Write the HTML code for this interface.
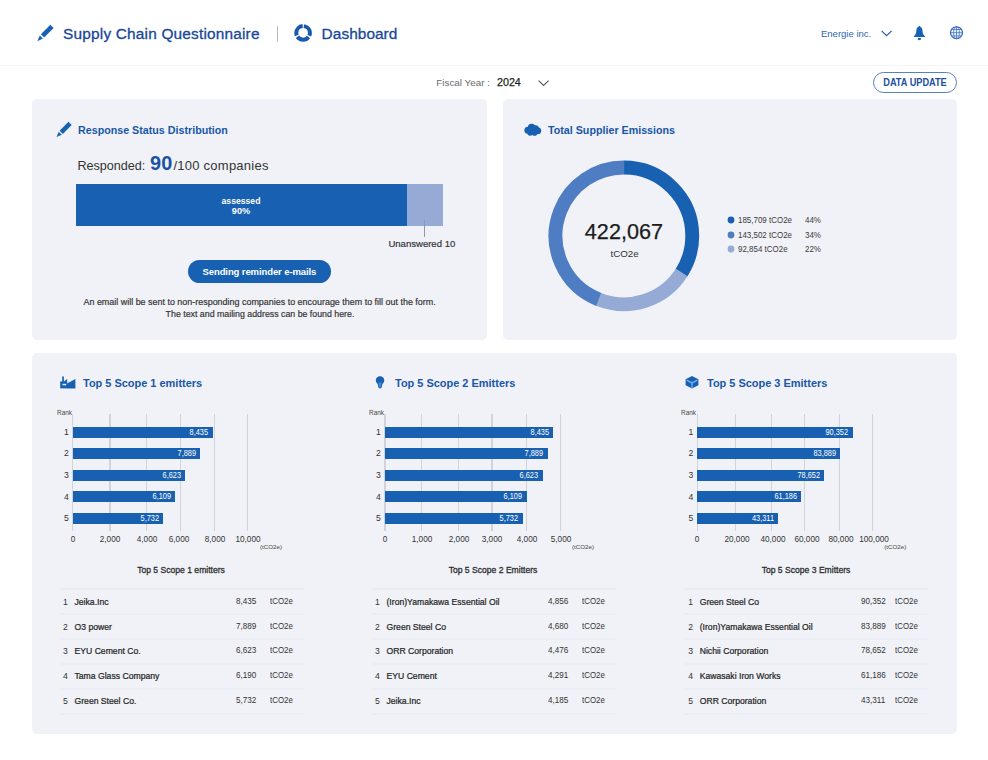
<!DOCTYPE html>
<html lang="en"><head><meta charset="utf-8"><title>Supply Chain Questionnaire - Dashboard</title>
<style>
html,body{margin:0;padding:0;background:#fff;}
body{width:988px;height:760px;position:relative;overflow:hidden;font-family:"Liberation Sans",sans-serif;}
.t{position:absolute;white-space:nowrap;line-height:1;}
.r{position:absolute;display:block;}
</style></head><body>
<svg class="r" style="left:34.6px;top:24px" width="19" height="19" viewBox="0 0 19 19"><g transform="translate(1.3,1) rotate(45 8.5 8.5)"><rect x="6.3" y="-1.6" width="4.6" height="13.4" fill="#1860b1"/><path d="M6.4 13.4 L10.8 13.4 L8.6 19.2 Z" fill="#1860b1"/></g></svg>
<div class="t" style="top:26px;font-size:15.4px;color:#18479a;letter-spacing:0.19px;-webkit-text-stroke:0.3px #18479a;left:63.10px;">Supply Chain Questionnaire</div>
<div class="r" style="left:277.30px;top:25.50px;width:1.10px;height:16.00px;background:#b4bcc9;"></div>
<svg class="r" style="left:293px;top:23px" width="20" height="20" viewBox="0 0 20 20"><circle cx="10.1" cy="9.9" r="6.8" fill="none" stroke="#1858ad" stroke-width="4" stroke-dasharray="12.8 1.442" stroke-dashoffset="-0.72" transform="rotate(-90 10.1 9.9)"/></svg>
<div class="t" style="top:26px;font-size:15.4px;color:#18479a;letter-spacing:0.06px;-webkit-text-stroke:0.3px #18479a;left:321.60px;">Dashboard</div>
<div class="t" style="top:29px;font-size:9.5px;color:#2f66b3;left:821.00px;">Energie inc.</div>
<svg class="r" style="left:880px;top:29px" width="14" height="9" viewBox="0 0 14 9"><path d="M1.6 1.9 L6.6 6.7 L11.6 1.9" fill="none" stroke="#2a5ca8" stroke-width="1.2"/></svg>
<svg class="r" style="left:912px;top:25px" width="15" height="17" viewBox="0 0 15 17"><path d="M7.4 0.8 C6.9 0.8 6.6 1.2 6.6 1.7 C5.1 2.3 4.4 3.8 4.3 5.4 C4.2 7.8 3.9 9.4 1.9 11.2 C1.6 11.6 1.8 12.1 2.3 12.1 L12.5 12.1 C13 12.1 13.2 11.6 12.9 11.2 C10.9 9.4 10.6 7.8 10.5 5.4 C10.4 3.8 9.7 2.3 8.2 1.7 C8.2 1.2 7.9 0.8 7.4 0.8 Z" fill="#1860b1"/><ellipse cx="7.4" cy="14.0" rx="1.7" ry="1.15" fill="#1860b1"/></svg>
<svg class="r" style="left:949.1px;top:25.2px" width="15" height="15" viewBox="0 0 15 15"><g fill="none"><circle cx="7.5" cy="7.7" r="6" stroke-width="1.15" stroke="#2a62b3" fill="#e9f1fc"/><g stroke="#3a70bd" stroke-width="0.75"><ellipse cx="7.5" cy="7.7" rx="2.9" ry="6"/><path d="M7.5 1.7 V13.7 M1.5 7.7 H13.5 M2.6 4.5 H12.4 M2.6 10.9 H12.4"/></g></g></svg>
<div class="r" style="left:0.00px;top:65.30px;width:988.00px;height:1.20px;background:#f3f4f6;"></div>
<div class="t" style="top:78px;font-size:9.85px;color:#6a6a6a;left:436.30px;">Fiscal Year :</div>
<div class="t" style="top:77px;font-size:10.7px;color:#1f1f1f;left:497.00px;-webkit-text-stroke:0.25px #1f1f1f;">2024</div>
<svg class="r" style="left:537px;top:79px" width="14" height="9" viewBox="0 0 14 9"><path d="M1.6 1.7 L6.6 6.4 L11.6 1.7" fill="none" stroke="#555" stroke-width="1.1"/></svg>
<div class="r" style="left:872.8px;top:71.9px;width:84.3px;height:20.7px;box-sizing:border-box;border:1.6px solid #5282c0;border-radius:11px;background:#fff"></div>
<div class="t" style="top:78px;font-size:10.4px;color:#1b509f;font-weight:700;left:914.60px;transform:translateX(-50%) scaleX(0.885);">DATA UPDATE</div>
<div class="r" style="left:32.00px;top:99.00px;width:455.00px;height:241.00px;background:#f0f2f7;border-radius:5px;"></div>
<div class="r" style="left:503.00px;top:99.00px;width:453.50px;height:241.00px;background:#f0f2f7;border-radius:5px;"></div>
<div class="r" style="left:32.00px;top:353.00px;width:924.50px;height:381.00px;background:#f0f2f7;border-radius:5px;"></div>
<svg class="r" style="left:53.6px;top:121.4px" width="18.4" height="18.4" viewBox="0 0 17 17"><g transform="translate(1,1) rotate(45 7.5 7.5)"><rect x="5.5" y="-1.4" width="4.2" height="11.6" fill="#1860b1"/><path d="M5.6 11.5 L9.6 11.5 L7.6 16.3 Z" fill="#1860b1"/></g></svg>
<div class="t" style="top:125px;font-size:11.8px;color:#1856a7;font-weight:700;left:77.90px;transform:scaleX(0.907);transform-origin:0 50%;">Response Status Distribution</div>
<div class="t" style="top:160px;font-size:12.6px;color:#333;left:77.40px;">Responded:</div>
<div class="t" style="top:154px;font-size:19.9px;color:#1a52a5;font-weight:700;left:150.10px;">90</div>
<div class="t" style="top:159px;font-size:13px;color:#333;letter-spacing:0.24px;left:173.50px;">/100 companies</div>
<div class="r" style="left:76.00px;top:183.70px;width:331.00px;height:42.00px;background:#1860b1;"></div>
<div class="r" style="left:407.00px;top:183.70px;width:35.60px;height:42.00px;background:#95aad5;"></div>
<div class="t" style="top:197px;font-size:9.2px;color:#fff;font-weight:700;left:241.00px;transform:translateX(-50%) scaleX(0.94);">assessed</div>
<div class="t" style="top:207px;font-size:9.2px;color:#fff;font-weight:700;left:241.00px;transform:translateX(-50%);">90%</div>
<div class="r" style="left:424.20px;top:220.00px;width:1.10px;height:16.50px;background:#9096a5;"></div>
<div class="t" style="top:239px;font-size:9.55px;color:#333;-webkit-text-stroke:0.18px #333;left:388.40px;">Unanswered 10</div>
<div class="r" style="left:188.00px;top:260.00px;width:142.80px;height:23.20px;background:#1860b1;border-radius:12px;"></div>
<div class="t" style="top:267px;font-size:9.5px;color:#fff;font-weight:700;letter-spacing:-0.1px;left:259.40px;transform:translateX(-50%);">Sending reminder e-mails</div>
<div class="t" style="top:298px;font-size:8.95px;color:#333;-webkit-text-stroke:0.18px #333;left:259.60px;transform:translateX(-50%);">An email will be sent to non-responding companies to encourage them to fill out the form.</div>
<div class="t" style="top:310px;font-size:8.8px;color:#333;-webkit-text-stroke:0.18px #333;left:260.00px;transform:translateX(-50%);">The text and mailing address can be found here.</div>
<svg class="r" style="left:523px;top:122px" width="20" height="16" viewBox="0 0 20 16"><g fill="#1860b1"><ellipse cx="9.8" cy="8" rx="6.4" ry="4.4"/><circle cx="8.6" cy="5.6" r="3.8"/><circle cx="12.6" cy="6.4" r="3.1"/><circle cx="4.9" cy="8.2" r="3.5"/><circle cx="14.7" cy="8.8" r="3.5"/><circle cx="7.2" cy="10.8" r="2.9"/><circle cx="11.6" cy="10.9" r="2.8"/></g></svg>
<div class="t" style="top:125px;font-size:11.8px;color:#1856a7;font-weight:700;left:548.10px;transform:scaleX(0.907);transform-origin:0 50%;">Total Supplier Emissions</div>
<svg class="r" style="left:0;top:0" width="988" height="760"><circle cx="623.9" cy="235.9" r="68.35" fill="none" stroke="#1860b1" stroke-width="13.9" stroke-dasharray="146.01 429.46" transform="rotate(-90.00 623.9 235.9)"/><circle cx="623.9" cy="235.9" r="68.35" fill="none" stroke="#95aad5" stroke-width="13.9" stroke-dasharray="94.48 429.46" transform="rotate(32.40 623.9 235.9)"/><circle cx="623.9" cy="235.9" r="68.35" fill="none" stroke="#4f7dc4" stroke-width="13.9" stroke-dasharray="188.96 429.46" transform="rotate(111.60 623.9 235.9)"/></svg>
<div class="t" style="top:221px;font-size:21.6px;color:#1c1c1c;-webkit-text-stroke:0.25px #1c1c1c;left:623.90px;transform:translateX(-50%);">422,067</div>
<div class="t" style="top:249px;font-size:9.8px;color:#333;left:624.60px;transform:translateX(-50%);">tCO2e</div>
<svg class="r" style="left:726px;top:214.60px" width="10" height="10"><circle cx="5" cy="5" r="3.4" fill="#1860b1"/></svg>
<div class="t" style="top:216px;font-size:8.5px;color:#3a3a3a;left:738.10px;transform:scaleX(0.937);transform-origin:0 50%;">185,709 tCO2e</div>
<div class="t" style="top:216px;font-size:8.5px;color:#3a3a3a;left:804.60px;transform:scaleX(0.937);transform-origin:0 50%;">44%</div>
<svg class="r" style="left:726px;top:229.50px" width="10" height="10"><circle cx="5" cy="5" r="3.4" fill="#4f7dc4"/></svg>
<div class="t" style="top:231px;font-size:8.5px;color:#3a3a3a;left:738.10px;transform:scaleX(0.937);transform-origin:0 50%;">143,502 tCO2e</div>
<div class="t" style="top:231px;font-size:8.5px;color:#3a3a3a;left:804.60px;transform:scaleX(0.937);transform-origin:0 50%;">34%</div>
<svg class="r" style="left:726px;top:244.40px" width="10" height="10"><circle cx="5" cy="5" r="3.4" fill="#95aad5"/></svg>
<div class="t" style="top:245px;font-size:8.5px;color:#3a3a3a;left:738.10px;transform:scaleX(0.937);transform-origin:0 50%;">92,854 tCO2e</div>
<div class="t" style="top:245px;font-size:8.5px;color:#3a3a3a;left:804.60px;transform:scaleX(0.937);transform-origin:0 50%;">22%</div>
<svg class="r" style="left:58.5px;top:375px" width="18" height="15" viewBox="0 0 18 15"><g fill="#1860b1"><rect x="3.2" y="1.5" width="1.7" height="5.5"/><rect x="1.2" y="6.4" width="6.9" height="7"/><path d="M4.9 6.5 L8.2 4.1 V9 Z"/><path d="M8 8.6 L16.4 3.9 V13.4 H8 Z"/></g><rect x="3.5" y="8.8" width="3.7" height="1.5" fill="#e6ecf6"/></svg>
<div class="t" style="top:377px;font-size:11.6px;color:#1856a7;font-weight:700;left:83.10px;transform:scaleX(0.945);transform-origin:0 50%;">Top 5 Scope 1 emitters</div>
<div class="t" style="top:410px;font-size:6.9px;color:#444;left:57.00px;transform:scaleX(0.93);transform-origin:0 50%;">Rank</div>
<div class="r" style="left:72.20px;top:413.60px;width:1.20px;height:117.00px;background:#d0d3da;"></div>
<div class="r" style="left:109.40px;top:413.60px;width:1.20px;height:117.00px;background:#d0d3da;"></div>
<div class="r" style="left:146.00px;top:413.60px;width:1.20px;height:117.00px;background:#d0d3da;"></div>
<div class="r" style="left:179.70px;top:413.60px;width:1.20px;height:117.00px;background:#d0d3da;"></div>
<div class="r" style="left:213.90px;top:413.60px;width:1.20px;height:117.00px;background:#d0d3da;"></div>
<div class="r" style="left:247.00px;top:413.60px;width:1.20px;height:117.00px;background:#d0d3da;"></div>
<div class="r" style="left:72.80px;top:426.50px;width:139.90px;height:11.00px;background:#1860b1;"></div>
<div class="t" style="top:429px;font-size:8.2px;color:#fff;left:208.40px;transform:translateX(-100%) scaleX(0.9);transform-origin:100% 50%;">8,435</div>
<div class="t" style="top:428px;font-size:8.6px;color:#333;left:66.50px;transform:translateX(-50%);">1</div>
<div class="r" style="left:72.80px;top:448.00px;width:127.00px;height:11.00px;background:#1860b1;"></div>
<div class="t" style="top:450px;font-size:8.2px;color:#fff;left:195.50px;transform:translateX(-100%) scaleX(0.9);transform-origin:100% 50%;">7,889</div>
<div class="t" style="top:449px;font-size:8.6px;color:#333;left:66.50px;transform:translateX(-50%);">2</div>
<div class="r" style="left:72.80px;top:469.50px;width:112.00px;height:11.00px;background:#1860b1;"></div>
<div class="t" style="top:472px;font-size:8.2px;color:#fff;left:180.50px;transform:translateX(-100%) scaleX(0.9);transform-origin:100% 50%;">6,623</div>
<div class="t" style="top:471px;font-size:8.6px;color:#333;left:66.50px;transform:translateX(-50%);">3</div>
<div class="r" style="left:72.80px;top:491.00px;width:102.50px;height:11.00px;background:#1860b1;"></div>
<div class="t" style="top:493px;font-size:8.2px;color:#fff;left:171.00px;transform:translateX(-100%) scaleX(0.9);transform-origin:100% 50%;">6,109</div>
<div class="t" style="top:493px;font-size:8.6px;color:#333;left:66.50px;transform:translateX(-50%);">4</div>
<div class="r" style="left:72.80px;top:512.50px;width:90.60px;height:11.00px;background:#1860b1;"></div>
<div class="t" style="top:515px;font-size:8.2px;color:#fff;left:159.10px;transform:translateX(-100%) scaleX(0.9);transform-origin:100% 50%;">5,732</div>
<div class="t" style="top:514px;font-size:8.6px;color:#333;left:66.50px;transform:translateX(-50%);">5</div>
<div class="t" style="top:535px;font-size:8.6px;color:#333;left:72.80px;transform:translateX(-50%) scaleX(0.955);">0</div>
<div class="t" style="top:535px;font-size:8.6px;color:#333;left:110.00px;transform:translateX(-50%) scaleX(0.955);">2,000</div>
<div class="t" style="top:535px;font-size:8.6px;color:#333;left:147.00px;transform:translateX(-50%) scaleX(0.955);">4,000</div>
<div class="t" style="top:535px;font-size:8.6px;color:#333;left:179.00px;transform:translateX(-50%) scaleX(0.955);">6,000</div>
<div class="t" style="top:535px;font-size:8.6px;color:#333;left:214.50px;transform:translateX(-50%) scaleX(0.955);">8,000</div>
<div class="t" style="top:535px;font-size:8.6px;color:#333;left:247.50px;transform:translateX(-50%) scaleX(0.955);">10,000</div>
<div class="t" style="top:544px;font-size:6.2px;color:#444;left:260.00px;">(tCO2e)</div>
<div class="t" style="top:565px;font-size:9.4px;color:#2d2d2d;-webkit-text-stroke:0.3px #2d2d2d;left:181.20px;transform:translateX(-50%) scaleX(0.915);">Top 5 Scope 1 emitters</div>
<div class="r" style="left:61.00px;top:588.00px;width:243.00px;height:2.00px;background:#ebedf4;"></div>
<div class="r" style="left:61.00px;top:613.00px;width:243.00px;height:2.00px;background:#ebedf4;"></div>
<div class="r" style="left:61.00px;top:638.00px;width:243.00px;height:2.00px;background:#ebedf4;"></div>
<div class="r" style="left:61.00px;top:663.00px;width:243.00px;height:2.00px;background:#ebedf4;"></div>
<div class="r" style="left:61.00px;top:688.00px;width:243.00px;height:2.00px;background:#ebedf4;"></div>
<div class="r" style="left:61.00px;top:713.00px;width:243.00px;height:2.00px;background:#ebedf4;"></div>
<div class="t" style="top:598px;font-size:8.6px;color:#333;left:65.50px;transform:translateX(-50%);">1</div>
<div class="t" style="top:598px;font-size:8.65px;color:#262626;-webkit-text-stroke:0.22px #262626;left:74.50px;">Jeika.Inc</div>
<div class="t" style="top:597px;font-size:8.5px;color:#333;left:236.10px;transform:scaleX(0.955);transform-origin:0 50%;">8,435</div>
<div class="t" style="top:597px;font-size:8.5px;color:#333;left:270.00px;transform:scaleX(0.93);transform-origin:0 50%;">tCO2e</div>
<div class="t" style="top:623px;font-size:8.6px;color:#333;left:65.50px;transform:translateX(-50%);">2</div>
<div class="t" style="top:623px;font-size:8.65px;color:#262626;-webkit-text-stroke:0.22px #262626;left:74.50px;">O3 power</div>
<div class="t" style="top:622px;font-size:8.5px;color:#333;left:236.10px;transform:scaleX(0.955);transform-origin:0 50%;">7,889</div>
<div class="t" style="top:622px;font-size:8.5px;color:#333;left:270.00px;transform:scaleX(0.93);transform-origin:0 50%;">tCO2e</div>
<div class="t" style="top:647px;font-size:8.6px;color:#333;left:65.50px;transform:translateX(-50%);">3</div>
<div class="t" style="top:647px;font-size:8.65px;color:#262626;-webkit-text-stroke:0.22px #262626;left:74.50px;">EYU Cement Co.</div>
<div class="t" style="top:646px;font-size:8.5px;color:#333;left:236.10px;transform:scaleX(0.955);transform-origin:0 50%;">6,623</div>
<div class="t" style="top:646px;font-size:8.5px;color:#333;left:270.00px;transform:scaleX(0.93);transform-origin:0 50%;">tCO2e</div>
<div class="t" style="top:672px;font-size:8.6px;color:#333;left:65.50px;transform:translateX(-50%);">4</div>
<div class="t" style="top:672px;font-size:8.65px;color:#262626;-webkit-text-stroke:0.22px #262626;left:74.50px;">Tama Glass Company</div>
<div class="t" style="top:671px;font-size:8.5px;color:#333;left:236.10px;transform:scaleX(0.955);transform-origin:0 50%;">6,190</div>
<div class="t" style="top:671px;font-size:8.5px;color:#333;left:270.00px;transform:scaleX(0.93);transform-origin:0 50%;">tCO2e</div>
<div class="t" style="top:697px;font-size:8.6px;color:#333;left:65.50px;transform:translateX(-50%);">5</div>
<div class="t" style="top:697px;font-size:8.65px;color:#262626;-webkit-text-stroke:0.22px #262626;left:74.50px;">Green Steel Co.</div>
<div class="t" style="top:696px;font-size:8.5px;color:#333;left:236.10px;transform:scaleX(0.955);transform-origin:0 50%;">5,732</div>
<div class="t" style="top:696px;font-size:8.5px;color:#333;left:270.00px;transform:scaleX(0.93);transform-origin:0 50%;">tCO2e</div>
<svg class="r" style="left:374px;top:375px" width="12" height="15" viewBox="0 0 12 15"><path d="M6.05 1.2 C3.5 1.2 1.8 3 1.8 5.2 C1.8 6.7 2.6 7.6 3.3 8.6 C3.8 9.4 4 10.4 4.1 11.6 C4.2 12.8 4.9 13.4 6.05 13.4 C7.2 13.4 7.9 12.8 8 11.6 C8.1 10.4 8.3 9.4 8.8 8.6 C9.5 7.6 10.3 6.7 10.3 5.2 C10.3 3 8.6 1.2 6.05 1.2 Z" fill="#1860b1"/><path d="M4.6 7.4 H7.5 L7.2 12 C7.1 12.6 6.7 12.8 6.05 12.8 C5.4 12.8 5 12.6 4.9 12 Z" fill="#4a86cf"/></svg>
<div class="t" style="top:377px;font-size:11.6px;color:#1856a7;font-weight:700;left:395.10px;transform:scaleX(0.945);transform-origin:0 50%;">Top 5 Scope 2 Emitters</div>
<div class="t" style="top:410px;font-size:6.9px;color:#444;left:369.00px;transform:scaleX(0.93);transform-origin:0 50%;">Rank</div>
<div class="r" style="left:384.40px;top:413.60px;width:1.20px;height:117.00px;background:#d0d3da;"></div>
<div class="r" style="left:421.30px;top:413.60px;width:1.20px;height:117.00px;background:#d0d3da;"></div>
<div class="r" style="left:457.90px;top:413.60px;width:1.20px;height:117.00px;background:#d0d3da;"></div>
<div class="r" style="left:491.40px;top:413.60px;width:1.20px;height:117.00px;background:#d0d3da;"></div>
<div class="r" style="left:525.90px;top:413.60px;width:1.20px;height:117.00px;background:#d0d3da;"></div>
<div class="r" style="left:559.70px;top:413.60px;width:1.20px;height:117.00px;background:#d0d3da;"></div>
<div class="r" style="left:385.00px;top:426.50px;width:168.40px;height:11.00px;background:#1860b1;"></div>
<div class="t" style="top:429px;font-size:8.2px;color:#fff;left:549.10px;transform:translateX(-100%) scaleX(0.9);transform-origin:100% 50%;">8,435</div>
<div class="t" style="top:428px;font-size:8.6px;color:#333;left:378.50px;transform:translateX(-50%);">1</div>
<div class="r" style="left:385.00px;top:448.00px;width:162.60px;height:11.00px;background:#1860b1;"></div>
<div class="t" style="top:450px;font-size:8.2px;color:#fff;left:543.30px;transform:translateX(-100%) scaleX(0.9);transform-origin:100% 50%;">7,889</div>
<div class="t" style="top:449px;font-size:8.6px;color:#333;left:378.50px;transform:translateX(-50%);">2</div>
<div class="r" style="left:385.00px;top:469.50px;width:157.70px;height:11.00px;background:#1860b1;"></div>
<div class="t" style="top:472px;font-size:8.2px;color:#fff;left:538.40px;transform:translateX(-100%) scaleX(0.9);transform-origin:100% 50%;">6,623</div>
<div class="t" style="top:471px;font-size:8.6px;color:#333;left:378.50px;transform:translateX(-50%);">3</div>
<div class="r" style="left:385.00px;top:491.00px;width:141.50px;height:11.00px;background:#1860b1;"></div>
<div class="t" style="top:493px;font-size:8.2px;color:#fff;left:522.20px;transform:translateX(-100%) scaleX(0.9);transform-origin:100% 50%;">6,109</div>
<div class="t" style="top:493px;font-size:8.6px;color:#333;left:378.50px;transform:translateX(-50%);">4</div>
<div class="r" style="left:385.00px;top:512.50px;width:137.60px;height:11.00px;background:#1860b1;"></div>
<div class="t" style="top:515px;font-size:8.2px;color:#fff;left:518.30px;transform:translateX(-100%) scaleX(0.9);transform-origin:100% 50%;">5,732</div>
<div class="t" style="top:514px;font-size:8.6px;color:#333;left:378.50px;transform:translateX(-50%);">5</div>
<div class="t" style="top:535px;font-size:8.6px;color:#333;left:385.00px;transform:translateX(-50%) scaleX(0.955);">0</div>
<div class="t" style="top:535px;font-size:8.6px;color:#333;left:421.90px;transform:translateX(-50%) scaleX(0.955);">1,000</div>
<div class="t" style="top:535px;font-size:8.6px;color:#333;left:459.00px;transform:translateX(-50%) scaleX(0.955);">2,000</div>
<div class="t" style="top:535px;font-size:8.6px;color:#333;left:491.90px;transform:translateX(-50%) scaleX(0.955);">3,000</div>
<div class="t" style="top:535px;font-size:8.6px;color:#333;left:526.50px;transform:translateX(-50%) scaleX(0.955);">4,000</div>
<div class="t" style="top:535px;font-size:8.6px;color:#333;left:560.50px;transform:translateX(-50%) scaleX(0.955);">5,000</div>
<div class="t" style="top:544px;font-size:6.2px;color:#444;left:572.00px;">(tCO2e)</div>
<div class="t" style="top:565px;font-size:9.4px;color:#2d2d2d;-webkit-text-stroke:0.3px #2d2d2d;left:493.20px;transform:translateX(-50%) scaleX(0.915);">Top 5 Scope 2 Emitters</div>
<div class="r" style="left:373.00px;top:588.00px;width:243.00px;height:2.00px;background:#ebedf4;"></div>
<div class="r" style="left:373.00px;top:613.00px;width:243.00px;height:2.00px;background:#ebedf4;"></div>
<div class="r" style="left:373.00px;top:638.00px;width:243.00px;height:2.00px;background:#ebedf4;"></div>
<div class="r" style="left:373.00px;top:663.00px;width:243.00px;height:2.00px;background:#ebedf4;"></div>
<div class="r" style="left:373.00px;top:688.00px;width:243.00px;height:2.00px;background:#ebedf4;"></div>
<div class="r" style="left:373.00px;top:713.00px;width:243.00px;height:2.00px;background:#ebedf4;"></div>
<div class="t" style="top:598px;font-size:8.6px;color:#333;left:377.50px;transform:translateX(-50%);">1</div>
<div class="t" style="top:598px;font-size:8.65px;color:#262626;-webkit-text-stroke:0.22px #262626;left:386.50px;">(Iron)Yamakawa Essential Oil</div>
<div class="t" style="top:597px;font-size:8.5px;color:#333;left:548.10px;transform:scaleX(0.955);transform-origin:0 50%;">4,856</div>
<div class="t" style="top:597px;font-size:8.5px;color:#333;left:582.00px;transform:scaleX(0.93);transform-origin:0 50%;">tCO2e</div>
<div class="t" style="top:623px;font-size:8.6px;color:#333;left:377.50px;transform:translateX(-50%);">2</div>
<div class="t" style="top:623px;font-size:8.65px;color:#262626;-webkit-text-stroke:0.22px #262626;left:386.50px;">Green Steel Co</div>
<div class="t" style="top:622px;font-size:8.5px;color:#333;left:548.10px;transform:scaleX(0.955);transform-origin:0 50%;">4,680</div>
<div class="t" style="top:622px;font-size:8.5px;color:#333;left:582.00px;transform:scaleX(0.93);transform-origin:0 50%;">tCO2e</div>
<div class="t" style="top:647px;font-size:8.6px;color:#333;left:377.50px;transform:translateX(-50%);">3</div>
<div class="t" style="top:647px;font-size:8.65px;color:#262626;-webkit-text-stroke:0.22px #262626;left:386.50px;">ORR Corporation</div>
<div class="t" style="top:646px;font-size:8.5px;color:#333;left:548.10px;transform:scaleX(0.955);transform-origin:0 50%;">4,476</div>
<div class="t" style="top:646px;font-size:8.5px;color:#333;left:582.00px;transform:scaleX(0.93);transform-origin:0 50%;">tCO2e</div>
<div class="t" style="top:672px;font-size:8.6px;color:#333;left:377.50px;transform:translateX(-50%);">4</div>
<div class="t" style="top:672px;font-size:8.65px;color:#262626;-webkit-text-stroke:0.22px #262626;left:386.50px;">EYU Cement</div>
<div class="t" style="top:671px;font-size:8.5px;color:#333;left:548.10px;transform:scaleX(0.955);transform-origin:0 50%;">4,291</div>
<div class="t" style="top:671px;font-size:8.5px;color:#333;left:582.00px;transform:scaleX(0.93);transform-origin:0 50%;">tCO2e</div>
<div class="t" style="top:697px;font-size:8.6px;color:#333;left:377.50px;transform:translateX(-50%);">5</div>
<div class="t" style="top:697px;font-size:8.65px;color:#262626;-webkit-text-stroke:0.22px #262626;left:386.50px;">Jeika.Inc</div>
<div class="t" style="top:696px;font-size:8.5px;color:#333;left:548.10px;transform:scaleX(0.955);transform-origin:0 50%;">4,185</div>
<div class="t" style="top:696px;font-size:8.5px;color:#333;left:582.00px;transform:scaleX(0.93);transform-origin:0 50%;">tCO2e</div>
<svg class="r" style="left:684px;top:374px" width="16" height="16" viewBox="0 0 16 16"><path d="M8 1.9 L14.4 5.2 V11.3 L8 14.5 L1.6 11.3 V5.2 Z" fill="#1860b1"/><path d="M2.6 6.2 L8 8.9 L13.4 6.2 M8 8.9 V14" fill="none" stroke="#78aef0" stroke-width="1.35"/></svg>
<div class="t" style="top:377px;font-size:11.6px;color:#1856a7;font-weight:700;left:707.40px;transform:scaleX(0.945);transform-origin:0 50%;">Top 5 Scope 3 Emitters</div>
<div class="t" style="top:410px;font-size:6.9px;color:#444;left:681.30px;transform:scaleX(0.93);transform-origin:0 50%;">Rank</div>
<div class="r" style="left:696.60px;top:413.60px;width:1.20px;height:117.00px;background:#d0d3da;"></div>
<div class="r" style="left:734.50px;top:413.60px;width:1.20px;height:117.00px;background:#d0d3da;"></div>
<div class="r" style="left:770.80px;top:413.60px;width:1.20px;height:117.00px;background:#d0d3da;"></div>
<div class="r" style="left:803.80px;top:413.60px;width:1.20px;height:117.00px;background:#d0d3da;"></div>
<div class="r" style="left:838.60px;top:413.60px;width:1.20px;height:117.00px;background:#d0d3da;"></div>
<div class="r" style="left:872.10px;top:413.60px;width:1.20px;height:117.00px;background:#d0d3da;"></div>
<div class="r" style="left:697.20px;top:426.50px;width:155.50px;height:11.00px;background:#1860b1;"></div>
<div class="t" style="top:429px;font-size:8.2px;color:#fff;left:848.40px;transform:translateX(-100%) scaleX(0.9);transform-origin:100% 50%;">90,352</div>
<div class="t" style="top:428px;font-size:8.6px;color:#333;left:690.80px;transform:translateX(-50%);">1</div>
<div class="r" style="left:697.20px;top:448.00px;width:143.20px;height:11.00px;background:#1860b1;"></div>
<div class="t" style="top:450px;font-size:8.2px;color:#fff;left:836.10px;transform:translateX(-100%) scaleX(0.9);transform-origin:100% 50%;">83,889</div>
<div class="t" style="top:449px;font-size:8.6px;color:#333;left:690.80px;transform:translateX(-50%);">2</div>
<div class="r" style="left:697.20px;top:469.50px;width:127.30px;height:11.00px;background:#1860b1;"></div>
<div class="t" style="top:472px;font-size:8.2px;color:#fff;left:820.20px;transform:translateX(-100%) scaleX(0.9);transform-origin:100% 50%;">78,652</div>
<div class="t" style="top:471px;font-size:8.6px;color:#333;left:690.80px;transform:translateX(-50%);">3</div>
<div class="r" style="left:697.20px;top:491.00px;width:104.30px;height:11.00px;background:#1860b1;"></div>
<div class="t" style="top:493px;font-size:8.2px;color:#fff;left:797.20px;transform:translateX(-100%) scaleX(0.9);transform-origin:100% 50%;">61,186</div>
<div class="t" style="top:493px;font-size:8.6px;color:#333;left:690.80px;transform:translateX(-50%);">4</div>
<div class="r" style="left:697.20px;top:512.50px;width:81.00px;height:11.00px;background:#1860b1;"></div>
<div class="t" style="top:515px;font-size:8.2px;color:#fff;left:773.90px;transform:translateX(-100%) scaleX(0.9);transform-origin:100% 50%;">43,311</div>
<div class="t" style="top:514px;font-size:8.6px;color:#333;left:690.80px;transform:translateX(-50%);">5</div>
<div class="t" style="top:535px;font-size:8.6px;color:#333;left:697.00px;transform:translateX(-50%) scaleX(0.955);">0</div>
<div class="t" style="top:535px;font-size:8.6px;color:#333;left:736.50px;transform:translateX(-50%) scaleX(0.955);">20,000</div>
<div class="t" style="top:535px;font-size:8.6px;color:#333;left:773.20px;transform:translateX(-50%) scaleX(0.955);">40,000</div>
<div class="t" style="top:535px;font-size:8.6px;color:#333;left:807.20px;transform:translateX(-50%) scaleX(0.955);">60,000</div>
<div class="t" style="top:535px;font-size:8.6px;color:#333;left:841.00px;transform:translateX(-50%) scaleX(0.955);">80,000</div>
<div class="t" style="top:535px;font-size:8.6px;color:#333;left:874.20px;transform:translateX(-50%) scaleX(0.955);">100,000</div>
<div class="t" style="top:544px;font-size:6.2px;color:#444;left:884.30px;">(tCO2e)</div>
<div class="t" style="top:565px;font-size:9.4px;color:#2d2d2d;-webkit-text-stroke:0.3px #2d2d2d;left:805.50px;transform:translateX(-50%) scaleX(0.915);">Top 5 Scope 3 Emitters</div>
<div class="r" style="left:685.30px;top:588.00px;width:243.00px;height:2.00px;background:#ebedf4;"></div>
<div class="r" style="left:685.30px;top:613.00px;width:243.00px;height:2.00px;background:#ebedf4;"></div>
<div class="r" style="left:685.30px;top:638.00px;width:243.00px;height:2.00px;background:#ebedf4;"></div>
<div class="r" style="left:685.30px;top:663.00px;width:243.00px;height:2.00px;background:#ebedf4;"></div>
<div class="r" style="left:685.30px;top:688.00px;width:243.00px;height:2.00px;background:#ebedf4;"></div>
<div class="r" style="left:685.30px;top:713.00px;width:243.00px;height:2.00px;background:#ebedf4;"></div>
<div class="t" style="top:598px;font-size:8.6px;color:#333;left:690.70px;transform:translateX(-50%);">1</div>
<div class="t" style="top:598px;font-size:8.65px;color:#262626;-webkit-text-stroke:0.22px #262626;left:699.70px;">Green Steel Co</div>
<div class="t" style="top:597px;font-size:8.5px;color:#333;left:861.30px;transform:scaleX(0.955);transform-origin:0 50%;">90,352</div>
<div class="t" style="top:597px;font-size:8.5px;color:#333;left:895.20px;transform:scaleX(0.93);transform-origin:0 50%;">tCO2e</div>
<div class="t" style="top:623px;font-size:8.6px;color:#333;left:690.70px;transform:translateX(-50%);">2</div>
<div class="t" style="top:623px;font-size:8.65px;color:#262626;-webkit-text-stroke:0.22px #262626;left:699.70px;">(Iron)Yamakawa Essential Oil</div>
<div class="t" style="top:622px;font-size:8.5px;color:#333;left:861.30px;transform:scaleX(0.955);transform-origin:0 50%;">83,889</div>
<div class="t" style="top:622px;font-size:8.5px;color:#333;left:895.20px;transform:scaleX(0.93);transform-origin:0 50%;">tCO2e</div>
<div class="t" style="top:647px;font-size:8.6px;color:#333;left:690.70px;transform:translateX(-50%);">3</div>
<div class="t" style="top:647px;font-size:8.65px;color:#262626;-webkit-text-stroke:0.22px #262626;left:699.70px;">Nichii Corporation</div>
<div class="t" style="top:646px;font-size:8.5px;color:#333;left:861.30px;transform:scaleX(0.955);transform-origin:0 50%;">78,652</div>
<div class="t" style="top:646px;font-size:8.5px;color:#333;left:895.20px;transform:scaleX(0.93);transform-origin:0 50%;">tCO2e</div>
<div class="t" style="top:672px;font-size:8.6px;color:#333;left:690.70px;transform:translateX(-50%);">4</div>
<div class="t" style="top:672px;font-size:8.65px;color:#262626;-webkit-text-stroke:0.22px #262626;left:699.70px;">Kawasaki Iron Works</div>
<div class="t" style="top:671px;font-size:8.5px;color:#333;left:861.30px;transform:scaleX(0.955);transform-origin:0 50%;">61,186</div>
<div class="t" style="top:671px;font-size:8.5px;color:#333;left:895.20px;transform:scaleX(0.93);transform-origin:0 50%;">tCO2e</div>
<div class="t" style="top:697px;font-size:8.6px;color:#333;left:690.70px;transform:translateX(-50%);">5</div>
<div class="t" style="top:697px;font-size:8.65px;color:#262626;-webkit-text-stroke:0.22px #262626;left:699.70px;">ORR Corporation</div>
<div class="t" style="top:696px;font-size:8.5px;color:#333;left:861.30px;transform:scaleX(0.955);transform-origin:0 50%;">43,311</div>
<div class="t" style="top:696px;font-size:8.5px;color:#333;left:895.20px;transform:scaleX(0.93);transform-origin:0 50%;">tCO2e</div>
</body></html>
